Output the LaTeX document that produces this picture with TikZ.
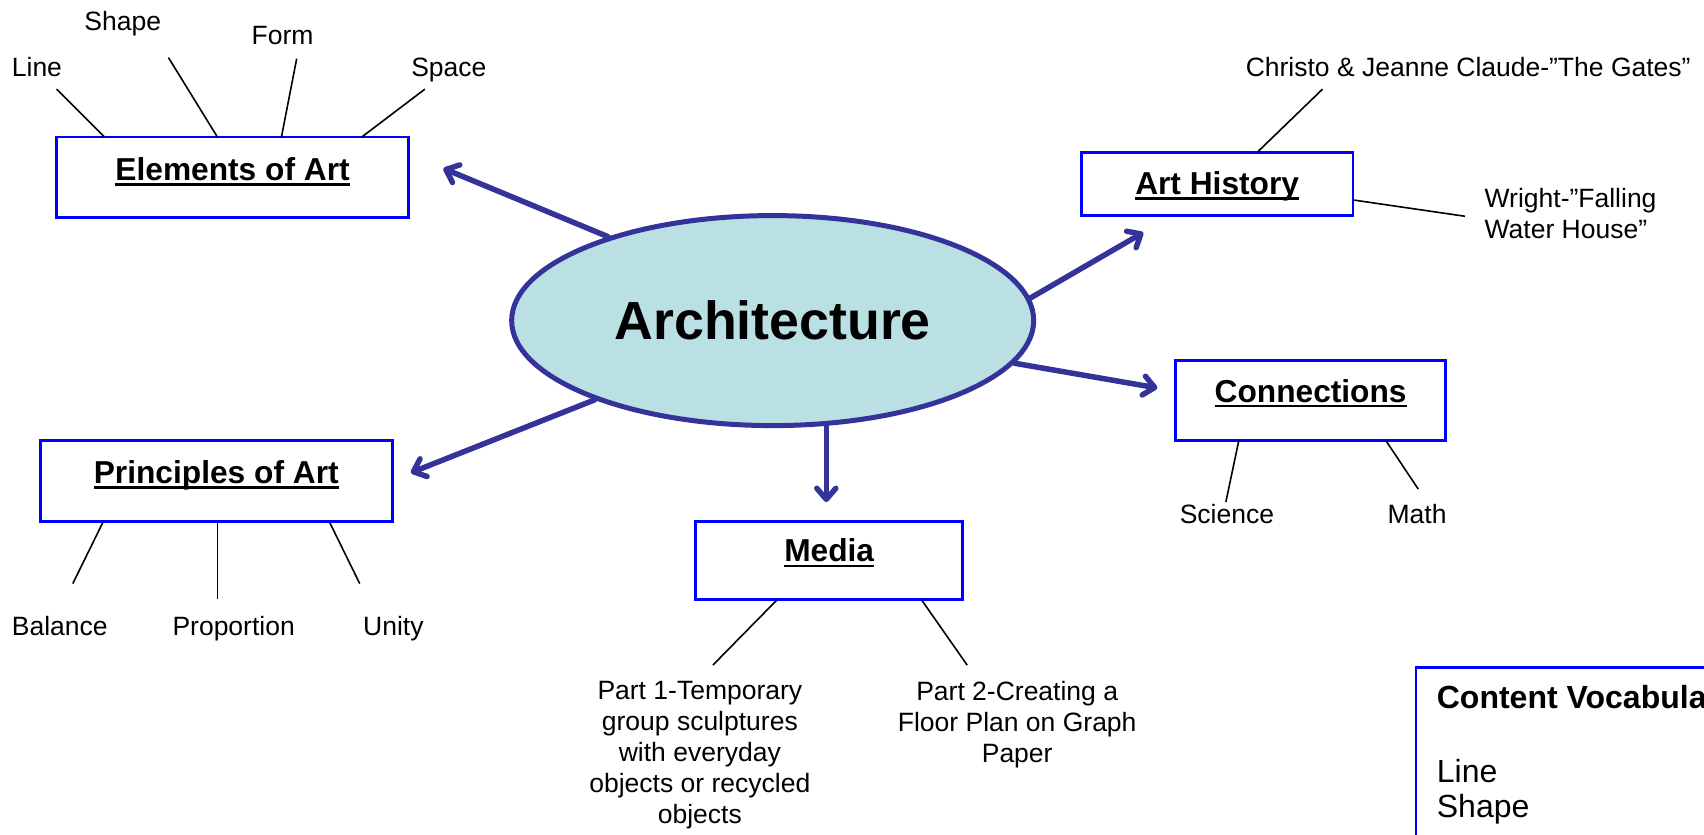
\documentclass[tikz,border=0pt]{standalone}
\usepackage{fontspec}
\setmainfont{Liberation Sans}
\usetikzlibrary{arrows.meta,fit,shapes.geometric}
\definecolor{arrblue}{HTML}{333399}
\definecolor{archfill}{HTML}{BBE0E3}
\newcommand\ulbox[1]{\setbox0=\hbox{#1}\rlap{\rule[-0.17em]{\wd0}{0.08em}}\box0}
\begin{document}
\begin{tikzpicture}[x=1.0867pt,y=-1.0867pt,
  box/.style={draw=blue, line width=2.8pt, inner sep=0pt},
  ttl/.style={font=\fontsize{31.7}{36}\selectfont\bfseries, anchor=base, inner sep=0pt},
  lbl/.style={font=\fontsize{26.5}{31}\selectfont, inner sep=0pt, anchor=base},
  multi/.style={font=\fontsize{26.5}{30.8}\selectfont, inner sep=0pt, align=center, anchor=north},
  thinline/.style={draw=black, line width=1.6pt},
  arr/.style={draw=arrblue, line width=5.5pt, line cap=round, -{Straight Barb[length=11pt,width=19pt,round]}},
  voc/.style={font=\fontsize{32}{36}\selectfont, inner sep=0pt, anchor=base west}]
\clip (0,0) rectangle (1568,767.46);
\fill[white] (0,0) rectangle (1568,767.46);

% central ellipse
\node[ellipse, draw=arrblue, line width=5pt, fill=archfill, minimum width=522pt, minimum height=210pt, inner sep=0pt, font=\fontsize{53.7}{60}\selectfont\bfseries] (arch) at (711,295) {Architecture};

% boxes
\node[box, fit={(52,126) (376,200)}] (elem) {};
\node[ttl] (elemT) at (214,166) {\ulbox{Elements of Art}};
\node[box, fit={(995,140) (1245,198)}] (hist) {};
\node[ttl] (histT) at (1120,179) {\ulbox{Art History}};
\node[box, fit={(1082,332) (1330,405)}] (conn) {};
\node[ttl] (connT) at (1206,370) {\ulbox{Connections}};
\node[box, fit={(37,405) (361,480)}] (prin) {};
\node[ttl] (prinT) at (199,445) {\ulbox{Principles of Art}};
\node[box, fit={(640,480) (886,552)}] (media) {};
\node[ttl] (mediaT) at (763,517) {\ulbox{Media}};
\node[box, fit={(1303,614) (1620,820)}] (vocab) {};
\node[voc, font=\fontsize{32}{36}\selectfont\bfseries] (vocT) at (1322,652) {Content Vocabulary};
\node[voc] (voc1) at (1322,720) {Line};
\node[voc] (voc2) at (1322,752) {Shape};

% arrows
\coordinate (aElem) at (408,155);
\coordinate (aPrin) at (378,435);
\coordinate (aMedia) at (760,462);
\coordinate (aHist) at (1052,214);
\coordinate (aConn) at (1065,357);
\draw[arr] (arch.153.3) -- (aElem);
\draw[arr] (arch.204.5) -- (aPrin);
\draw[arr] (arch.297) -- (arch.297 |- aMedia);
\draw[arr] (arch.5.5) -- (aHist);
\draw[arr] (arch.350.9) -- (aConn);

% labels
\node[lbl] (lLine) at (34,70) {Line};
\node[lbl] (lShape) at (113,28) {Shape};
\node[lbl] (lForm) at (260,41) {Form};
\node[lbl] (lSpace) at (413,70) {Space};
\node[lbl] (lChristo) at (1351,70) {Christo \& Jeanne Claude-”The Gates”};
\node[multi, align=left, anchor=north west] (lWright) at (1366,173) {Wright-”Falling\\Water House”};
\node[lbl] (lSci) at (1129,482) {Science};
\node[lbl] (lMath) at (1304,482) {Math};
\node[lbl] (lBal) at (55,585) {Balance};
\node[lbl] (lProp) at (215,585) {Proportion};
\node[lbl] (lUnity) at (362,585) {Unity};
\node[multi] (lPart1) at (644,627) {Part 1-Temporary\\group sculptures\\with everyday\\objects or recycled\\objects};
\node[multi] (lPart2) at (936,627) {Part 2-Creating a\\Floor Plan on Graph\\Paper};

% thin connectors
\coordinate (cLine) at (52,82);   \coordinate (bLine) at (96,126);
\coordinate (cShape) at (155,53); \coordinate (bShape) at (200,126);
\coordinate (cForm) at (273,54);  \coordinate (bForm) at (259,126);
\coordinate (cSpace) at (391,82); \coordinate (bSpace) at (333,126);
\draw[thinline] (cLine) -- (bLine);
\draw[thinline] (cShape) -- (bShape);
\draw[thinline] (cForm) -- (bForm);
\draw[thinline] (cSpace) -- (bSpace);
\coordinate (cChristo) at (1217,82); \coordinate (bChristo) at (1157,140);
\coordinate (cWright) at (1348,199); \coordinate (bWright) at (1245,184);
\draw[thinline] (bChristo) -- (cChristo);
\draw[thinline] (bWright) -- (cWright);
\coordinate (cSci) at (1128,462); \coordinate (bSci) at (1140,405);
\coordinate (cMath) at (1305,450); \coordinate (bMath) at (1275,405);
\draw[thinline] (bSci) -- (cSci);
\draw[thinline] (bMath) -- (cMath);
\coordinate (cBal) at (67,537); \coordinate (bBal) at (95,480);
\coordinate (cProp) at (200,551); \coordinate (bProp) at (200,480);
\coordinate (cUnity) at (331,537); \coordinate (bUnity) at (303,480);
\draw[thinline] (bBal) -- (cBal);
\draw[thinline] (bProp) -- (cProp);
\draw[thinline] (bUnity) -- (cUnity);
\coordinate (cP1) at (656,612); \coordinate (bP1) at (715,552);
\coordinate (cP2) at (890,612); \coordinate (bP2) at (848,552);
\draw[thinline] (bP1) -- (cP1);
\draw[thinline] (bP2) -- (cP2);
\end{tikzpicture}
\end{document}
